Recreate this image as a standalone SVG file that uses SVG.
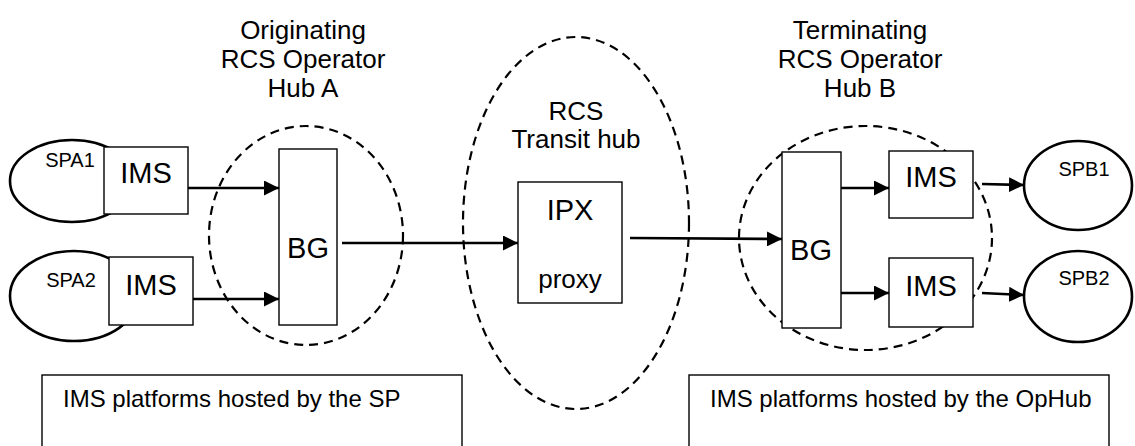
<svg xmlns="http://www.w3.org/2000/svg" width="1135" height="446" viewBox="0 0 1135 446">
<defs>
<marker id="ah" markerUnits="userSpaceOnUse" markerWidth="15" markerHeight="15" viewBox="0 0 15 15" refX="15" refY="7.5" orient="auto">
<path d="M0,0 L15,7.5 L0,15 Z" fill="#000"/>
</marker>
<style>
text{font-family:"Liberation Sans",Arial,sans-serif;fill:#000;text-anchor:middle}
.box{fill:#fff;stroke:#000;stroke-width:1.4}
.sp{fill:#fff;stroke:#000;stroke-width:2.6}
.hub{fill:none;stroke:#000;stroke-width:2.2;stroke-dasharray:9 6}
.conn{fill:none;stroke:#000;stroke-width:2.6;marker-end:url(#ah)}
.t{font-size:26px}
.n{font-size:29px}
.s{font-size:20px}
.b{font-size:24px;text-anchor:start}
</style>
</defs>
<rect width="1135" height="446" fill="#fff"/>

<g id="title-a"><text class="t" x="303" y="39">Originating</text><text class="t" x="303" y="68">RCS Operator</text><text class="t" x="303" y="97">Hub A</text></g>
<g id="title-b"><text class="t" x="860" y="39">Terminating</text><text class="t" x="860" y="68">RCS Operator</text><text class="t" x="860" y="97">Hub B</text></g>

<g id="hub-a"><ellipse class="hub" cx="306" cy="235.5" rx="97" ry="109.5"/></g>
<g id="hub-transit"><ellipse class="hub" cx="576" cy="223" rx="113" ry="186"/><text class="t" x="576" y="120">RCS</text><text class="t" x="576" y="148">Transit hub</text></g>
<g id="hub-b"><ellipse class="hub" cx="865.5" cy="238" rx="126.5" ry="112"/></g>

<g id="spa1"><ellipse class="sp" cx="72" cy="181" rx="62" ry="41"/><text class="s" x="70" y="167">SPA1</text></g>
<g id="spa2"><ellipse class="sp" cx="74" cy="296" rx="64" ry="45"/><text class="s" x="71" y="287">SPA2</text></g>
<g id="ims-a1"><rect class="box" x="104" y="147" width="84" height="67"/><text class="n" x="146" y="183">IMS</text></g>
<g id="ims-a2"><rect class="box" x="109" y="257" width="84" height="68"/><text class="n" x="151" y="295">IMS</text></g>
<g id="bg-a"><rect class="box" x="279" y="149" width="58" height="176"/><text class="n" x="308" y="258">BG</text></g>

<g id="ipx"><rect class="box" x="518" y="182" width="104" height="121"/><text class="n" x="570" y="220">IPX</text><text class="t" x="570" y="288">proxy</text></g>

<g id="bg-b"><rect class="box" x="782" y="152" width="59" height="176"/><text class="n" x="811" y="260">BG</text></g>
<g id="ims-b1"><rect class="box" x="889" y="151" width="84" height="67"/><text class="n" x="931" y="187">IMS</text></g>
<g id="ims-b2"><rect class="box" x="889" y="258" width="84" height="69"/><text class="n" x="931" y="296">IMS</text></g>
<g id="spb1"><ellipse class="sp" cx="1078" cy="185.5" rx="54" ry="44.5"/><text class="s" x="1084" y="176">SPB1</text></g>
<g id="spb2"><ellipse class="sp" cx="1078" cy="296.5" rx="54" ry="45.5"/><text class="s" x="1084" y="285">SPB2</text></g>

<g id="note-sp"><rect class="box" x="42" y="375" width="420" height="90"/><text class="b" x="63" y="407">IMS platforms hosted by the SP</text></g>
<g id="note-ophub"><rect class="box" x="689" y="375" width="420" height="90"/><text class="b" x="710" y="407">IMS platforms hosted by the OpHub</text></g>

<g id="connectors">
<line class="conn" x1="188" y1="188" x2="279" y2="188"/>
<line class="conn" x1="193" y1="299" x2="279" y2="299"/>
<line class="conn" x1="342" y1="243" x2="518" y2="243"/>
<line class="conn" x1="630" y1="238" x2="782" y2="239"/>
<line class="conn" x1="841" y1="188" x2="889" y2="188"/>
<line class="conn" x1="841" y1="293" x2="889" y2="293"/>
<line class="conn" x1="982" y1="184" x2="1024" y2="185"/>
<line class="conn" x1="982" y1="293" x2="1024" y2="295"/>
</g>
</svg>
